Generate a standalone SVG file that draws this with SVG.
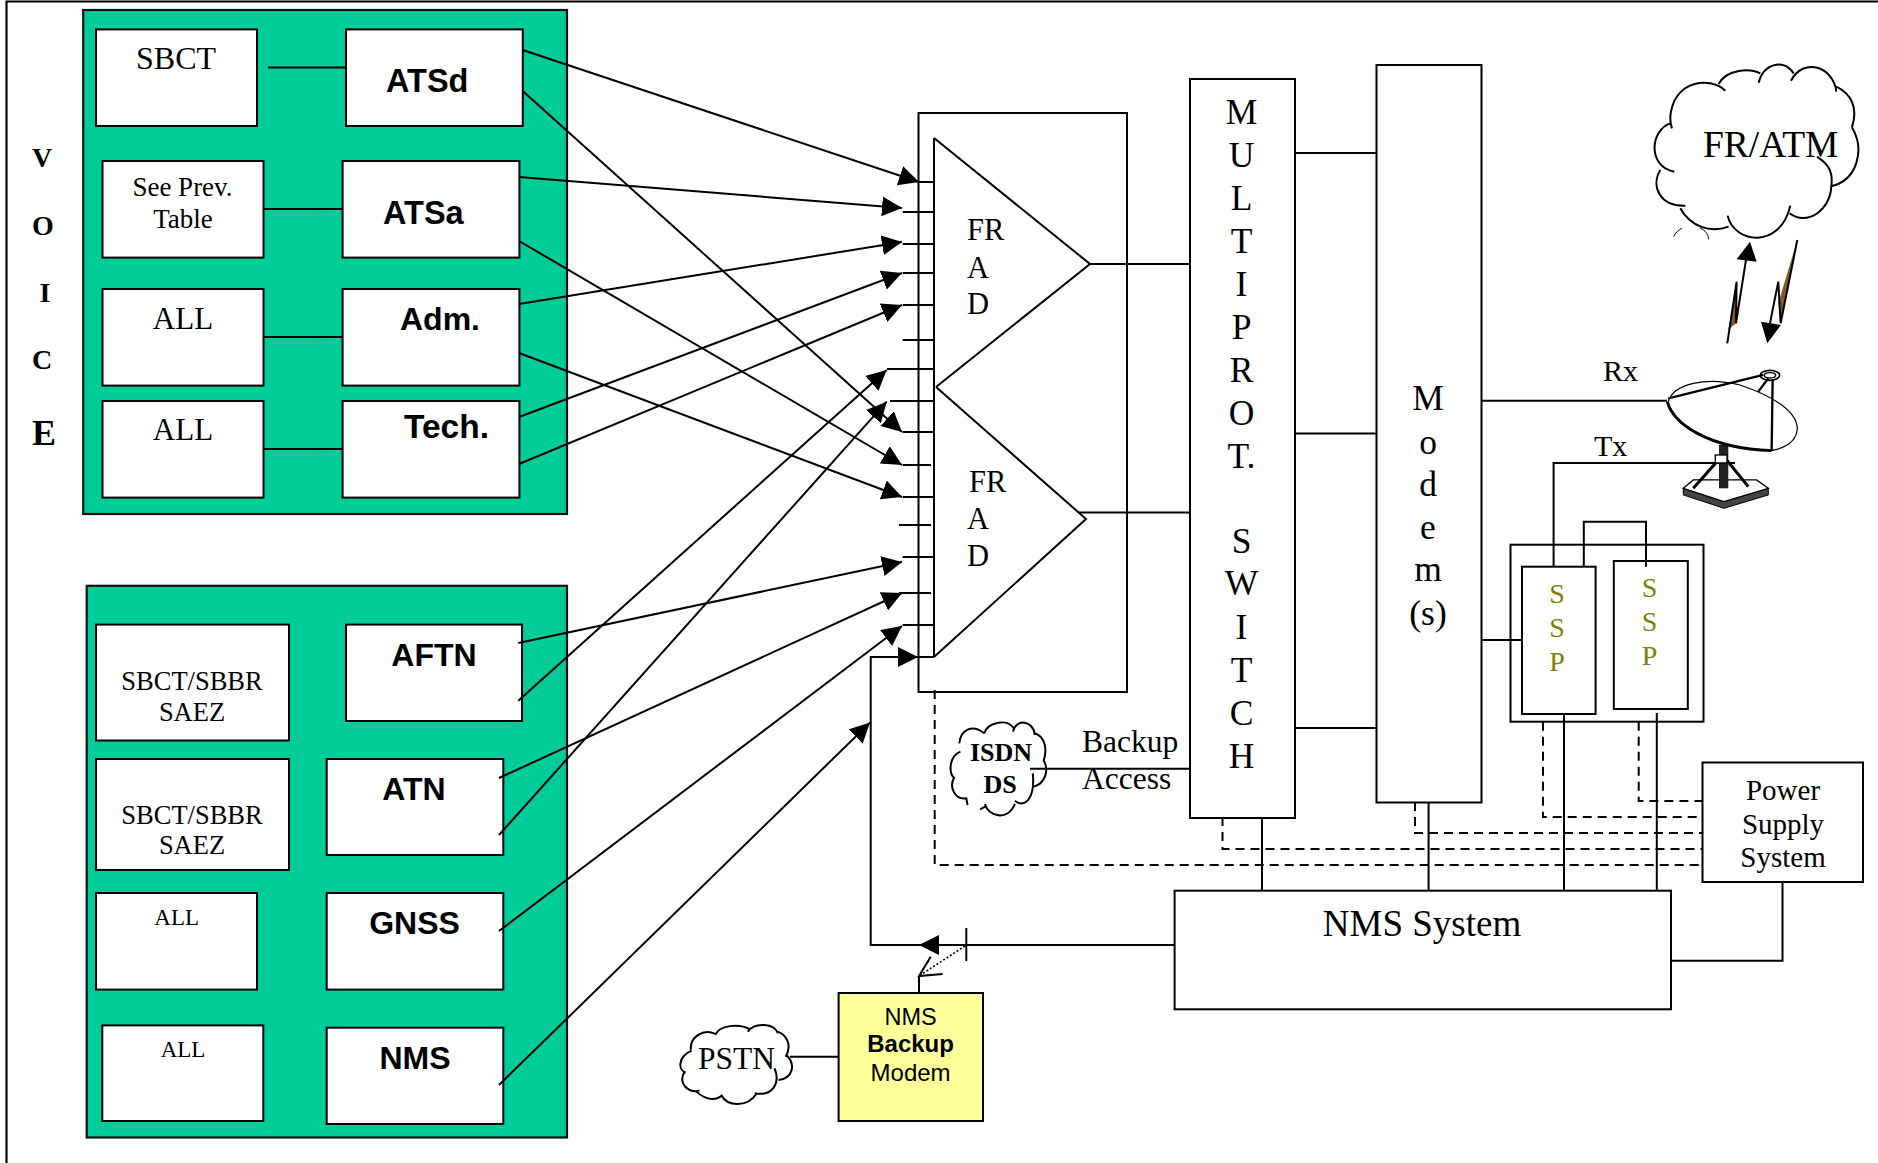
<svg xmlns="http://www.w3.org/2000/svg" width="1878" height="1163" viewBox="0 0 1878 1163">
<style>
.b{fill:#fff;stroke:#000;stroke-width:2}
.g{fill:#00CC99;stroke:#111;stroke-width:2.2}
.l{fill:none;stroke:#000;stroke-width:2}
.d{fill:none;stroke:#000;stroke-width:2;stroke-dasharray:9 6}
.a{marker-end:url(#ah)}
.c{fill:none;stroke:#000;stroke-width:2;vector-effect:non-scaling-stroke}
.t{font-family:"Liberation Serif","Times New Roman",serif;fill:#000}
.s{font-family:"Liberation Sans",Arial,sans-serif;fill:#000}
.h{font-family:"Liberation Sans",Arial,sans-serif;font-weight:700;font-size:32px;fill:#000}
.m{text-anchor:middle}
.v{font-size:35.5px;text-anchor:middle}
.o{font-size:28px;text-anchor:middle;fill:#808000}
</style>
<defs>
<marker id="ah" markerUnits="userSpaceOnUse" markerWidth="21" markerHeight="21" refX="20" refY="10" orient="auto"><path d="M0 0L20 10L0 20z" fill="#000"/></marker>
</defs>
<rect width="1878" height="1163" fill="#fff"/>
<path id="frame" d="M6.5 1163V1.5H1878" fill="none" stroke="#000" stroke-width="2.2"/>

<g id="voice-label" class="t" font-weight="700">
<text x="32" y="167" font-size="28">V</text>
<text x="32" y="235" font-size="28">O</text>
<text x="45" y="302" font-size="28" text-anchor="middle">I</text>
<text x="32" y="369" font-size="28">C</text>
<text x="32" y="445" font-size="36">E</text>
</g>

<g id="voice-group"><rect class="g" x="83.2" y="10" width="483.8" height="504"/></g>
<g id="data-group"><rect class="g" x="86.7" y="585.8" width="480.3" height="551.7"/></g>

<g id="sbct"><rect class="b" x="96" y="29.4" width="161" height="96.6"/><text class="t m" x="176" y="69" font-size="32">SBCT</text></g>
<g id="atsd"><rect class="b" x="346" y="29.4" width="176.8" height="96.6"/><text class="h" x="386" y="92" style="font-size:32.5px">ATSd</text></g>
<g id="see-prev"><rect class="b" x="102.5" y="161" width="161" height="96.6"/><text class="t m" x="182.5" y="195.5" font-size="27">See Prev.</text><text class="t m" x="183" y="227.5" font-size="27">Table</text></g>
<g id="atsa"><rect class="b" x="342.6" y="161" width="176.8" height="96.6"/><text class="h" x="383" y="224" style="font-size:32.5px">ATSa</text></g>
<g id="all-1"><rect class="b" x="102.5" y="289" width="161" height="96.6"/><text class="t m" x="183" y="329" font-size="31">ALL</text></g>
<g id="adm"><rect class="b" x="342.6" y="289" width="176.8" height="96.6"/><text class="h" x="400" y="330">Adm.</text></g>
<g id="all-2"><rect class="b" x="102.5" y="401" width="161" height="96.6"/><text class="t m" x="183" y="440" font-size="31">ALL</text></g>
<g id="tech"><rect class="b" x="342.6" y="401" width="176.8" height="96.6"/><text class="h" x="404" y="438" style="font-size:33.5px">Tech.</text></g>

<g id="sbct-sbbr-1"><rect class="b" x="96" y="624.6" width="193" height="115.9"/><text class="t m" x="192" y="690" font-size="26.5">SBCT/SBBR</text><text class="t m" x="192" y="721" font-size="26.5">SAEZ</text></g>
<g id="aftn"><rect class="b" x="346" y="624.6" width="176" height="96.4"/><text class="h m" x="434" y="666">AFTN</text></g>
<g id="sbct-sbbr-2"><rect class="b" x="96" y="759" width="193" height="111"/><text class="t m" x="192" y="824" font-size="26.5">SBCT/SBBR</text><text class="t m" x="192" y="854" font-size="26.5">SAEZ</text></g>
<g id="atn"><rect class="b" x="326.7" y="759" width="176.6" height="96"/><text class="h m" x="414" y="800">ATN</text></g>
<g id="all-3"><rect class="b" x="96" y="893" width="161" height="96.6"/><text class="t m" x="176.7" y="925" font-size="23">ALL</text></g>
<g id="gnss"><rect class="b" x="326.7" y="893" width="176.6" height="96.6"/><text class="h m" x="414.5" y="934">GNSS</text></g>
<g id="all-4"><rect class="b" x="102.3" y="1025.4" width="161" height="95.6"/><text class="t m" x="183" y="1057" font-size="23">ALL</text></g>
<g id="nms"><rect class="b" x="326.7" y="1027.7" width="176.6" height="96.3"/><text class="h m" x="415" y="1069">NMS</text></g>

<g id="frad-box"><rect class="l" x="918.5" y="113" width="208.5" height="579"/></g>
<g id="frad-1"><path class="l" d="M934 138L1090 264L936 387"/><text class="t" font-size="30.5" x="967" y="240">FR</text><text class="t" font-size="30.5" x="967" y="278">A</text><text class="t" font-size="30.5" x="967" y="314">D</text></g>
<g id="frad-2"><path class="l" d="M936 387L1086 519L934 657"/><text class="t" font-size="30.5" x="969" y="492">FR</text><text class="t" font-size="30.5" x="967" y="529">A</text><text class="t" font-size="30.5" x="967" y="566">D</text></g>

<g id="multiprotocol-switch"><rect class="b" x="1190" y="79" width="105" height="739"/>
<g class="t v">
<text x="1241.5" y="124">M</text><text x="1241.5" y="166.5">U</text><text x="1241.5" y="209.5">L</text><text x="1241.5" y="252.5">T</text><text x="1241.5" y="296">I</text><text x="1241.5" y="339">P</text><text x="1241.5" y="382">R</text><text x="1241.5" y="425">O</text><text x="1241.5" y="468">T.</text><text x="1241.5" y="553">S</text><text x="1241.5" y="595">W</text><text x="1241.5" y="639">I</text><text x="1241.5" y="682">T</text><text x="1241.5" y="725">C</text><text x="1241.5" y="768">H</text>
</g></g>
<g id="modem"><rect class="b" x="1376.5" y="65" width="105" height="737.5"/>
<g class="t v">
<text x="1428" y="409.5">M</text><text x="1428" y="454">o</text><text x="1428" y="496">d</text><text x="1428" y="539">e</text><text x="1428" y="581">m</text><text x="1428" y="625">(s)</text>
</g></g>

<g id="ssp-rack"><rect class="l" x="1510.5" y="544.7" width="193" height="177"/></g>
<g id="ssp-1"><rect class="l" x="1522" y="566.7" width="73.6" height="147.3"/><text class="t o" x="1557" y="603">S</text><text class="t o" x="1557" y="637">S</text><text class="t o" x="1557" y="671">P</text></g>
<g id="ssp-2"><rect class="l" x="1613.8" y="561" width="74" height="148"/><text class="t o" x="1649.5" y="597">S</text><text class="t o" x="1649.5" y="631">S</text><text class="t o" x="1649.5" y="665">P</text></g>

<g id="power-supply"><rect class="b" x="1702.5" y="762.5" width="160.5" height="119.5"/><text class="t m" x="1783" y="800" font-size="29">Power</text><text class="t m" x="1783" y="834" font-size="29">Supply</text><text class="t m" x="1783" y="867" font-size="29">System</text></g>
<g id="nms-system"><rect class="b" x="1174.6" y="890.7" width="496.4" height="118.6"/><text class="t m" x="1422" y="936" font-size="37">NMS System</text></g>
<g id="nms-backup-modem"><rect x="838.6" y="993" width="144.4" height="128" fill="#FFFF99" stroke="#000" stroke-width="2"/><text class="s m" x="910.6" y="1025" font-size="23.5">NMS</text><text class="s m" x="910.6" y="1052" font-size="24" font-weight="700">Backup</text><text class="s m" x="910.6" y="1081" font-size="24">Modem</text></g>

<g id="connectors">
<path class="l" d="M268 67.6H346M263.5 209H342.6M263.5 337H342.6M263.5 449H342.6"/>
<path class="l" d="M919 182H934M902.7 212H934M902.7 244H934M902.7 273H934M902.7 305H934M902.7 340H934M887 369H934M890 401H934M902.7 432H934M902.7 465H931M902.7 497H934M899 525H931M902.7 557H934M899 593H931M902.7 625H934M934 138V657"/>
<path class="l a" d="M522.7 50L919 182"/>
<path class="l a" d="M522.7 91L902 432"/>
<path class="l a" d="M519 177L902 208"/>
<path class="l a" d="M519 241L902 465"/>
<path class="l a" d="M519 304L902 242"/>
<path class="l a" d="M519 353L902 497"/>
<path class="l a" d="M519 417L902 273"/>
<path class="l a" d="M519 464L902 305"/>
<path class="l a" d="M518.3 643L902 562"/>
<path class="l a" d="M518.3 700.7L886.7 370"/>
<path class="l a" d="M499 778L902 593"/>
<path class="l a" d="M499 835L886.7 401.7"/>
<path class="l a" d="M499 931L902 626"/>
<path class="l a" d="M499 1085L870 722.6"/>
<path class="l" d="M1090 264H1190M1078 512.5H1190M1295 153H1376M1295 433.5H1376M1295 728H1376M1030 768.7H1190"/>
<path class="l" d="M1481.5 400.7H1667M1735 463H1553.6V566.7M1481.5 640H1522M1583.8 566.7V521.7H1646V566.7"/>
<path class="l" d="M1262 817V890.7M1428.6 802V890.7M1564 714V890.7M1656.8 713V890.7M1782.5 881.7V960.7H1671"/>
<path class="d" d="M934.7 690V865H1702.5M1222.5 817V849H1702.5M1415 802V833H1702.5M1543 721.7V817H1702.5M1638.7 721.7V801H1702.5"/>
<path class="l a" d="M1174.6 945H919"/>
<path class="l" d="M919 945H870.7V657H900"/>
<path class="l a" d="M900 657H918"/>
<path class="l" d="M918 657H934"/>
<path class="l" d="M966.3 928V961" stroke-width="1.5"/>
<path d="M965 946L919 976" fill="none" stroke="#000" stroke-width="1.6" stroke-dasharray="2 2"/>
<path class="l" d="M930.7 956.7L919 976L942.6 974M919 976V993"/>
<path class="l" d="M790 1056.7H838.6"/>
</g>

<g id="fr-atm-cloud">
<g transform="translate(1417 40) scale(.3333)">
<path class="c" d="M925 152C880 110 780 120 762 215C758 235 760 250 765 265M760 250C700 270 690 380 772 395M730 390C700 440 730 500 805 497M790 505C820 560 880 580 935 560M932 527C950 610 1090 630 1120 497M1118 520C1170 560 1240 510 1243 440C1250 390 1230 370 1200 350M1245 438C1320 420 1345 330 1305 262M1305 262C1325 200 1300 160 1258 140M1258 155C1250 80 1160 50 1122 122M1130 100C1100 55 1040 70 1025 128M1030 100C1000 85 930 85 905 132"/>
<path class="c" style="stroke-width:1" d="M770 590C775 578 785 570 795 565M850 565C865 570 875 585 875 598"/>
</g>
<text class="t" x="1703" y="157" font-size="37.5">FR/ATM</text>
</g>

<g id="radio-links" transform="translate(1420 40) scale(.3333)">
<path d="M950 725L925 870L948 850z" fill="#8B5A20"/>
<path d="M1132 600L1075 790L1082 850z" fill="#8B5A20"/>
<path class="c" d="M922 910L950 725L948 850L978 660"/>
<path d="M990 605L950 658L1010 665z" fill="#000"/>
<path class="c" d="M1132 600L1082 850L1075 725L1048 860"/>
<path d="M1042 910L1023 845L1083 855z" fill="#000"/>
</g>

<g id="satellite-dish" transform="translate(1420 40) scale(.3333)">
<path d="M790 1345L912 1385L1045 1345V1365L912 1405L790 1365z" fill="#444" stroke="#000" stroke-width="3"/>
<path d="M820 1320H1010L1045 1345L912 1385L790 1345z" fill="#fff" stroke="#000" stroke-width="4"/>
<rect x="897" y="1215" width="28" height="130" fill="#222"/>
<path d="M820 1345L900 1255M985 1340L920 1260" fill="none" stroke="#000" stroke-width="9"/>
<rect x="886" y="1245" width="35" height="24" fill="#fff" stroke="#000" stroke-width="4"/>
<path class="c" style="stroke-width:1.2" d="M745 1085C760 1030 860 1010 960 1035C1050 1065 1130 1110 1132 1165C1130 1210 1090 1225 1055 1232"/>
<path d="M742 1085C760 1150 860 1225 1055 1232" fill="none" stroke="#000" stroke-width="9"/>
<path d="M745 1075L1030 1005M1015 1055L1045 1015M1058 1020L1055 1232" fill="none" stroke="#000" stroke-width="7"/>
<ellipse cx="1050" cy="1006" rx="29" ry="15" fill="none" stroke="#000" stroke-width="5"/>
<ellipse cx="1050" cy="1006" rx="17" ry="8" fill="none" stroke="#000" stroke-width="4"/>
</g>
<g id="rx-tx-labels"><text class="t" x="1603" y="381" font-size="30">Rx</text><text class="t" x="1594" y="456" font-size="30">Tx</text></g>

<g id="isdn-cloud">
<g transform="translate(660 680) scale(.3953 .3333)">
<path class="c" d="M820 160C790 130 760 150 757 190M760 215C730 230 730 280 745 295M745 290C730 320 745 360 775 355L778 375M810 388L822 380M822 372C830 410 880 425 898 372M898 362C920 385 950 360 943 280M945 320C975 310 985 270 970 240M970 245C980 210 975 170 948 160M948 165C945 120 900 115 893 155M895 145C880 115 830 125 820 160"/>
</g>
<text class="t m" x="1001" y="761" font-size="26" font-weight="700">ISDN</text><text class="t m" x="1000" y="793" font-size="26" font-weight="700">DS</text>
<text class="t" x="1082" y="752" font-size="31.5">Backup</text><text class="t" x="1082" y="789" font-size="31.5">Access</text>
</g>

<g id="pstn-cloud">
<g transform="translate(660 680) scale(.3953 .3333)">
<path class="c" d="M140 1062C110 1045 75 1070 78 1110M80 1112C45 1130 45 1170 65 1178M62 1175C45 1210 70 1240 100 1232M92 1235C120 1265 145 1260 158 1245M155 1245C170 1280 220 1285 245 1240M240 1240C285 1250 305 1210 290 1165M300 1200C335 1195 345 1155 320 1125M318 1130C335 1095 320 1065 298 1055M298 1060C290 1030 240 1025 222 1055M228 1048C200 1030 150 1035 140 1065"/>
</g>
<text class="t" x="698" y="1069" font-size="31.5">PSTN</text>
</g>
</svg>
